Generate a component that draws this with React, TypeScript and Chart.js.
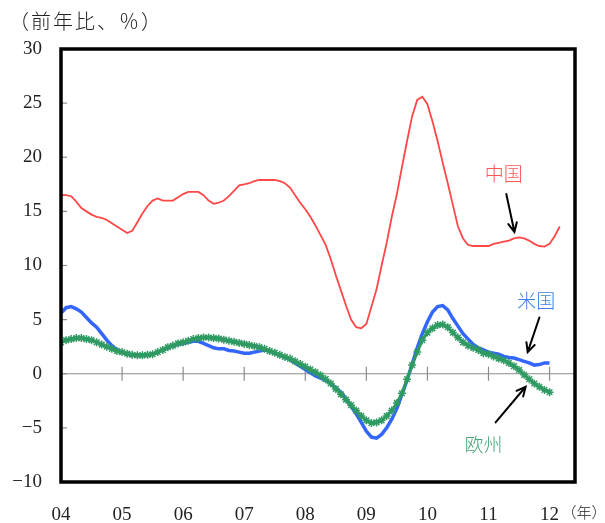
import React, { useEffect, useRef } from "react";
import { Chart, registerables } from "chart.js";

Chart.register(...registerables);

// Monthly year-on-year growth (%), starting January 2004.
const chinaValues = [
  16.5, 16.5, 16.4, 15.9, 15.3, 15.0, 14.7, 14.5, 14.4, 14.2, 13.9, 13.6,
  13.3, 13.0, 13.2, 14.0, 14.8, 15.5, 16.0, 16.2, 16.0, 16.0, 16.0, 16.3,
  16.6, 16.8, 16.8, 16.8, 16.5, 16.0, 15.7, 15.8, 16.0, 16.4, 16.9, 17.4,
  17.5, 17.6, 17.8, 17.9, 17.9, 17.9, 17.9, 17.8, 17.6, 17.2, 16.5, 15.8,
  15.2, 14.5, 13.7, 12.8, 11.9, 10.6, 9.1, 7.7, 6.3, 5.0, 4.3, 4.2,
  4.6, 6.2, 7.8, 10.0, 12.1, 14.5, 16.6, 19.1, 21.5, 23.8, 25.3, 25.6,
  24.9, 23.3, 21.5, 19.5, 17.6, 15.6, 13.6, 12.5, 11.9, 11.8, 11.8, 11.8,
  11.8, 12.0, 12.1, 12.2, 12.3, 12.5, 12.6, 12.5, 12.3, 12.0, 11.8, 11.75,
  12.0, 12.7, 13.6,
];

const usValues = [
  5.6, 6.1, 6.2, 6.0, 5.7, 5.2, 4.7, 4.3, 3.7, 3.1, 2.6, 2.2,
  2.0, 1.8, 1.7, 1.7, 1.7, 1.7, 1.8, 2.0, 2.2, 2.4, 2.6, 2.7,
  2.8, 2.9, 3.0, 3.0, 2.8, 2.6, 2.4, 2.3, 2.3, 2.15, 2.1, 2.0,
  1.9, 1.9, 2.0, 2.1, 2.2, 2.1, 1.9, 1.7, 1.5, 1.3, 1.0, 0.7,
  0.4, 0.1, -0.2, -0.4, -0.6, -0.9, -1.3, -1.7, -2.3, -3.0, -3.7, -4.5,
  -5.3, -5.85, -5.95, -5.6, -5.0, -4.2, -3.2, -1.9, -0.6, 0.9, 2.4, 3.7,
  4.8, 5.7, 6.2, 6.3, 5.9, 5.1, 4.4, 3.7, 3.2, 2.7, 2.4, 2.2,
  2.0, 1.9, 1.8, 1.6, 1.5, 1.45, 1.3, 1.15, 1.0, 0.8, 0.85, 1.0,
  1.0,
];

const euroValues = [
  2.9, 3.1, 3.2, 3.3, 3.3, 3.2, 3.1, 2.9, 2.7, 2.5, 2.3, 2.1,
  2.0, 1.85, 1.75, 1.7, 1.7, 1.75, 1.8, 2.0, 2.2, 2.45, 2.6, 2.8,
  2.9, 3.05, 3.2, 3.3, 3.35, 3.35, 3.3, 3.25, 3.15, 3.05, 2.95, 2.85,
  2.75, 2.65, 2.55, 2.45, 2.3, 2.1, 1.95, 1.75, 1.55, 1.4, 1.15, 0.9,
  0.65, 0.4, 0.15, -0.15, -0.5, -0.9, -1.4, -1.9, -2.4, -2.9, -3.4, -3.9,
  -4.3, -4.55, -4.5, -4.3, -3.9, -3.4, -2.7, -1.8, -0.5, 0.8, 2.0, 3.1,
  3.8, 4.2, 4.5, 4.55, 4.3, 3.8, 3.35, 2.9, 2.6, 2.4, 2.2, 1.9,
  1.8, 1.6, 1.4, 1.25, 1.0, 0.7, 0.35, -0.1, -0.5, -0.9, -1.2, -1.5,
  -1.7,
];

// Year tick labels, one every 12 months from January 2004.
const yearLabels = ["04", "05", "06", "07", "08", "09", "10", "11", "12"];
const monthsPerYear = 12;
const xMax = 101;
const yMin = -10;
const yMax = 30;
const yStep = 5;

const titleText = "（前年比、％）";
const yearUnitText = "（年）";

// Series name labels and their pointer arrows, in data units (month, %).
const seriesNotes = [
  { text: "中国", color: "#ff5656", at: [87.0, 18.5], from: [87.5, 16.6], to: [89.1, 13.1] },
  { text: "米国", color: "#3b82e6", at: [93.4, 6.75], from: [94.0, 5.2], to: [91.7, 2.0] },
  { text: "欧州", color: "#45a676", at: [83.0, -6.55], from: [85.4, -4.5], to: [91.3, -1.2] },
];

const toPoints = (values: number[]) => values.map((v, i) => ({ x: i, y: v }));

const SERIF = "'Liberation Serif', 'DejaVu Serif', serif";
const CJK = "'Noto Sans CJK JP', 'Noto Sans CJK SC', sans-serif";

const fmt = (v: number) => (v < 0 ? "\u2212" + Math.abs(v) : String(v));

const framePlugin = {
  id: "frame",
  beforeDatasetsDraw(chart: any) {
    const { ctx, chartArea } = chart;
    const xs = chart.scales.x;
    const ys = chart.scales.y;
    const y0 = ys.getPixelForValue(0);
    ctx.save();
    ctx.strokeStyle = "#8c8c8c";
    ctx.lineWidth = 1.2;
    // zero line
    ctx.beginPath();
    ctx.moveTo(chartArea.left, y0);
    ctx.lineTo(chartArea.right, y0);
    ctx.stroke();
    // year ticks crossing the zero line
    yearLabels.forEach((_, i) => {
      const x = xs.getPixelForValue(i * monthsPerYear);
      ctx.beginPath();
      ctx.moveTo(x, y0 - 7);
      ctx.lineTo(x, y0 + 7);
      ctx.stroke();
    });
    // inner ticks on the value axis
    for (let v = yMin; v <= yMax; v += yStep) {
      const y = ys.getPixelForValue(v);
      ctx.beginPath();
      ctx.moveTo(chartArea.left, y);
      ctx.lineTo(chartArea.left + 6, y);
      ctx.stroke();
    }
    ctx.restore();
  },
  afterDatasetsDraw(chart: any) {
    const { ctx, chartArea } = chart;
    const xs = chart.scales.x;
    const ys = chart.scales.y;
    ctx.save();
    // plot frame
    ctx.strokeStyle = "#000";
    ctx.lineWidth = 3.5;
    ctx.strokeRect(
      chartArea.left,
      chartArea.top,
      chartArea.right - chartArea.left,
      chartArea.bottom - chartArea.top
    );

    // series names with arrows
    seriesNotes.forEach((n) => {
      const px = (p: number[]) => [xs.getPixelForValue(p[0]), ys.getPixelForValue(p[1])];
      const [tx, ty] = px(n.at);
      ctx.fillStyle = n.color;
      ctx.font = `300 19px ${CJK}`;
      ctx.textAlign = "center";
      ctx.textBaseline = "middle";
      ctx.fillText(n.text, tx, ty);

      const [fx, fy] = px(n.from);
      const [ex, ey] = px(n.to);
      ctx.strokeStyle = "#000";
      ctx.lineWidth = 2;
      ctx.lineCap = "round";
      ctx.beginPath();
      ctx.moveTo(fx, fy);
      ctx.lineTo(ex, ey);
      const ang = Math.atan2(ey - fy, ex - fx);
      const head = 10;
      ctx.moveTo(ex - head * Math.cos(ang - 0.45), ey - head * Math.sin(ang - 0.45));
      ctx.lineTo(ex, ey);
      ctx.lineTo(ex - head * Math.cos(ang + 0.45), ey - head * Math.sin(ang + 0.45));
      ctx.stroke();
    });

    // axis captions
    ctx.fillStyle = "#222";
    ctx.textBaseline = "middle";
    ctx.textAlign = "left";
    ctx.font = `300 20px ${CJK}`;
    (ctx as any).letterSpacing = "2px";
    ctx.fillText(titleText, 9, 21);
    (ctx as any).letterSpacing = "0px";
    ctx.font = `300 15px ${CJK}`;
    const xLast = xs.getPixelForValue((yearLabels.length - 1) * monthsPerYear);
    ctx.fillText(yearUnitText, xLast + 12, 512);
    ctx.restore();
  },
};

export default function App() {
  const canvasRef = useRef<HTMLCanvasElement | null>(null);

  useEffect(() => {
    document.body.style.margin = "0";
    const canvas = canvasRef.current;
    if (!canvas) return;
    const chart = new Chart(canvas, {
      type: "line",
      data: {
        datasets: [
          {
            label: "欧州",
            data: toPoints(euroValues),
            borderColor: "#2f9a62",
            backgroundColor: "#2f9a62",
            borderWidth: 3,
            pointStyle: "star",
            pointRadius: 4,
            pointBorderWidth: 1.5,
            pointBorderColor: "#2f9a62",
            tension: 0,
            order: 0,
          },
          {
            label: "米国",
            data: toPoints(usValues),
            borderColor: "#3366ff",
            borderWidth: 3.5,
            pointRadius: 0,
            tension: 0,
            order: 1,
          },
          {
            label: "中国",
            data: toPoints(chinaValues),
            borderColor: "#ff4747",
            borderWidth: 1.8,
            pointRadius: 0,
            tension: 0,
            order: 2,
          },
        ],
      },
      options: {
        responsive: false,
        animation: false,
        layout: { padding: { top: 49, right: 30, left: 0, bottom: 0 } },
        plugins: {
          legend: { display: false },
          tooltip: { enabled: false },
        },
        scales: {
          x: {
            type: "linear",
            min: 0,
            max: xMax,
            grid: { display: false, drawTicks: false },
            border: { display: false },
            afterBuildTicks: (scale: any) => {
              scale.ticks = yearLabels.map((_, i) => ({ value: i * monthsPerYear }));
            },
            afterFit: (scale: any) => {
              scale.height = 41;
            },
            ticks: {
              autoSkip: false,
              maxRotation: 0,
              padding: 22,
              color: "#222",
              font: { family: SERIF, size: 19 },
              callback: (_v: any, i: number) => yearLabels[i],
            },
          },
          y: {
            min: yMin,
            max: yMax,
            grid: { display: false, drawTicks: false },
            border: { display: false },
            afterFit: (scale: any) => {
              scale.width = 61;
            },
            ticks: {
              stepSize: yStep,
              padding: 19,
              color: "#222",
              font: { family: SERIF, size: 19 },
              callback: (v: any) => fmt(Number(v)),
            },
          },
        },
      },
      plugins: [framePlugin],
    });
    return () => chart.destroy();
  }, []);

  return (
    <div style={{ width: 605, height: 523, background: "#fff" }}>
      <canvas ref={canvasRef} width={605} height={523} style={{ display: "block" }} />
    </div>
  );
}
